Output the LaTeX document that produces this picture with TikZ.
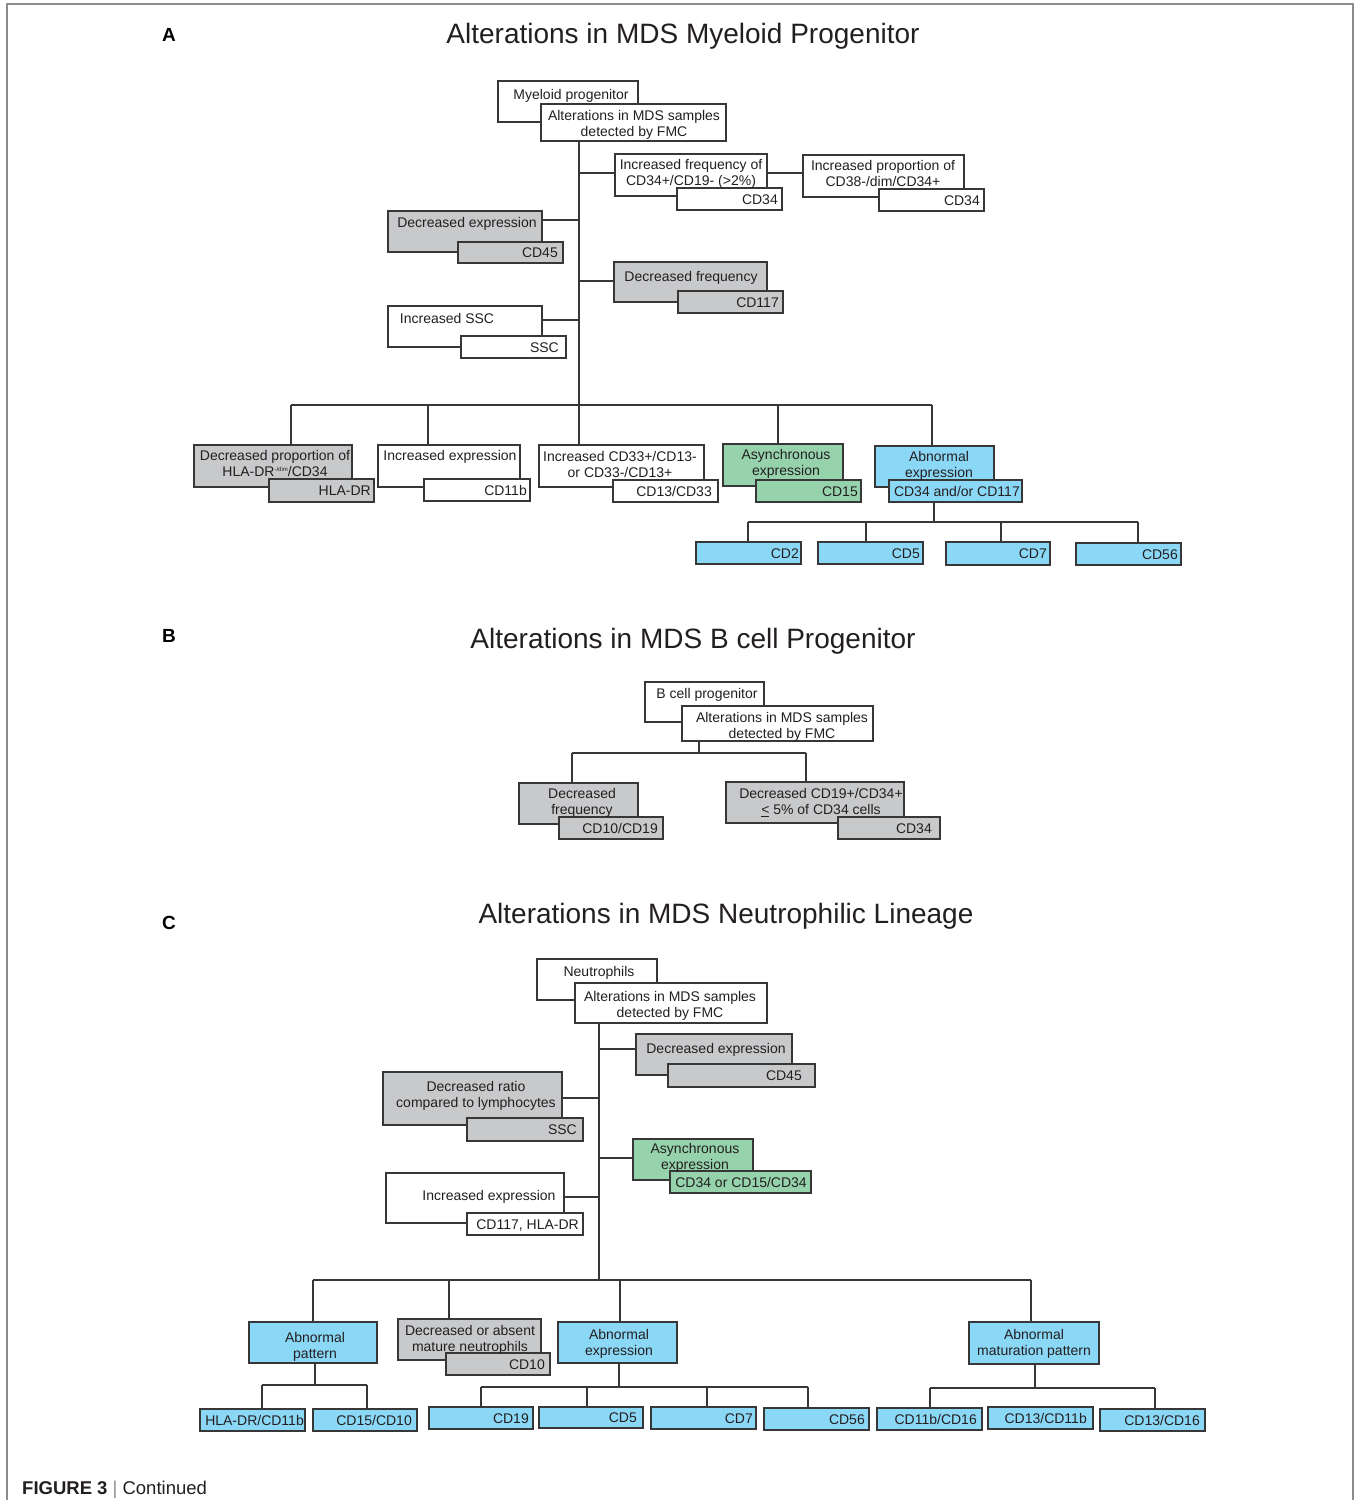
\documentclass[tikz,border=0pt]{standalone}
\usepackage{fontspec}
\setmainfont{Liberation Sans}
\usetikzlibrary{calc}
\definecolor{linec}{RGB}{55,55,55}
\definecolor{txtc}{RGB}{35,31,32}
\definecolor{grayf}{RGB}{200,201,203}
\definecolor{greenf}{RGB}{150,211,172}
\definecolor{bluef}{RGB}{139,215,246}
\definecolor{framec}{RGB}{140,140,140}
\newcommand\Bx[6]{\node[bxs,fill=#6,minimum width={(#4-#2)*1pt},minimum height={(#5-#3)*1pt},anchor=north west] (#1) at (#2,#3) {};}
\tikzset{
  bxs/.style={draw=linec,line width=1.6pt,inner sep=0pt,outer sep=0pt},
  conn/.style={draw=linec,line width=1.8pt},
  tx/.style={font=\fontsize{14}{16}\selectfont,align=center,inner sep=0pt,text=txtc,yshift=-1.5pt},
  lab/.style={font=\fontsize{14}{16}\selectfont,inner sep=0pt,text=txtc,anchor=east,text height=10pt,text depth=0pt},
  ttl/.style={font=\fontsize{28}{30}\selectfont,inner sep=0pt,text=txtc,yshift=-3pt},
  let/.style={font=\fontsize{19}{20}\selectfont\bfseries,inner sep=0pt,text=black}
}
\begin{document}
\begin{tikzpicture}[x=1pt,y=-1pt]
\useasboundingbox (0,0) rectangle (1356,1500);
\fill[white] (0,0) rectangle (1356,1500);
\draw[framec,line width=1.3pt] (7,1500) -- (7,4) -- (1353,4) -- (1353,1500);

% ================= A =================
\node[let] (letA) at (169,35) {A};
\node[ttl] (ttlA) at (683,33) {Alterations in MDS Myeloid Progenitor};

\coordinate (jA) at (579,405);
\coordinate (bA1) at (579,173);
\coordinate (bA2) at (579,220);
\coordinate (bA3) at (579,281);
\coordinate (bA4) at (579,320);
\coordinate (dA1) at (291,405);
\coordinate (dA2) at (428,405);
\coordinate (dA4) at (778,405);
\coordinate (dA5) at (932,405);
\coordinate (eA) at (934,522);
\coordinate (fA1) at (748,522);
\coordinate (fA2) at (866,522);
\coordinate (fA3) at (1001,522);
\coordinate (fA4) at (1138,522);

\Bx{myA}{498}{81}{638}{122}{white}
\Bx{altA}{541}{104}{726}{141}{white}
\Bx{ifA}{615}{154}{767}{196}{white}
\Bx{ifAs}{677}{188}{782}{210}{white}
\Bx{ipA}{803}{155}{964}{197}{white}
\Bx{ipAs}{879}{189}{984}{211}{white}
\Bx{dxA}{388}{211}{542}{252}{grayf}
\Bx{dxAs}{458}{242}{563}{263}{grayf}
\Bx{dfA}{614}{262}{767}{302}{grayf}
\Bx{dfAs}{678}{291}{783}{313}{grayf}
\Bx{ssA}{388}{306}{542}{347}{white}
\Bx{ssAs}{461}{336}{566}{358}{white}

\Bx{hlA}{194}{445}{352}{487}{grayf}
\Bx{hlAs}{269}{479}{374}{502}{grayf}
\Bx{ieA}{378}{445}{520}{487}{white}
\Bx{ieAs}{424}{479}{530}{501}{white}
\Bx{icA}{539}{445}{704}{487}{white}
\Bx{icAs}{613}{480}{718}{502}{white}
\Bx{asA}{723}{444}{843}{486}{greenf}
\Bx{asAs}{756}{480}{861}{502}{greenf}
\Bx{abA}{875}{446}{994}{487}{bluef}
\Bx{abAs}{889}{480}{1022}{502}{bluef}
\Bx{c2A}{696}{542}{801}{564}{bluef}
\Bx{c5A}{818}{542}{923}{564}{bluef}
\Bx{c7A}{946}{542}{1050}{565}{bluef}
\Bx{c56A}{1076}{543}{1181}{565}{bluef}

\draw[conn] (altA.south -| jA) -- (jA);
\draw[conn] (bA1) -- (bA1 -| ifA.west);
\draw[conn] (bA1 -| ifA.east) -- (bA1 -| ipA.west);
\draw[conn] (bA2) -- (bA2 -| dxA.east);
\draw[conn] (bA3) -- (bA3 -| dfA.west);
\draw[conn] (bA4) -- (bA4 -| ssA.east);
\draw[conn] (dA1) -- (dA5);
\draw[conn] (dA1) -- (dA1 |- hlA.north);
\draw[conn] (dA2) -- (dA2 |- ieA.north);
\draw[conn] (jA) -- (jA |- icA.north);
\draw[conn] (dA4) -- (dA4 |- asA.north);
\draw[conn] (dA5) -- (dA5 |- abA.north);
\draw[conn] (abAs.south -| eA) -- (eA);
\draw[conn] (fA1) -- (fA4);
\draw[conn] (fA1) -- (fA1 |- c2A.north);
\draw[conn] (fA2) -- (fA2 |- c5A.north);
\draw[conn] (fA3) -- (fA3 |- c7A.north);
\draw[conn] (fA4) -- (fA4 |- c56A.north);

\node[tx] (tmyA) at (571,94) {Myeloid progenitor};
\node[tx] (taltA) at (634,123) {Alterations in MDS samples\\detected by FMC};
\node[tx] (tifA) at (691,172) {Increased frequency of\\CD34+/CD19- (>2\%)};
\node[lab] (tifAs) at ([xshift=-4pt]ifAs.east) {CD34};
\node[tx] (tipA) at (883,172) {Increased proportion of\\CD38-/dim/CD34+};
\node[lab] (tipAs) at ([xshift=-4pt]ipAs.east) {CD34};
\node[tx] (tdxA) at (467,222) {Decreased expression};
\node[lab] (tdxAs) at ([xshift=-5pt]dxAs.east) {CD45};
\node[tx] (tdfA) at (691,276) {Decreased frequency};
\node[lab] (tdfAs) at ([xshift=-4pt]dfAs.east) {CD117};
\node[tx] (tssA) at (447,317) {Increased SSC};
\node[lab] (tssAs) at ([xshift=-7pt]ssAs.east) {SSC};
\node[tx] (thlA) at (275,462) {Decreased proportion of\\HLA-DR{\fontsize{6}{6}\selectfont\raisebox{5pt}{-/dim}}/CD34};
\node[lab] (thlAs) at ([xshift=-3pt]hlAs.east) {HLA-DR};
\node[tx] (tieA) at (450,455) {Increased expression};
\node[lab] (tieAs) at ([xshift=-3pt]ieAs.east) {CD11b};
\node[tx] (ticA) at (620,463) {Increased CD33+/CD13-\\or CD33-/CD13+};
\node[lab] (ticAs) at ([xshift=-6pt]icAs.east) {CD13/CD33};
\node[tx] (tasA) at (786,462) {Asynchronous\\expression};
\node[lab] (tasAs) at ([xshift=-3pt]asAs.east) {CD15};
\node[tx] (tabA) at (939,464) {Abnormal\\expression};
\node[lab] (tabAs) at ([xshift=-2pt]abAs.east) {CD34 and/or CD117};
\node[lab] (tc2A) at ([xshift=-2pt]c2A.east) {CD2};
\node[lab] (tc5A) at ([xshift=-3pt]c5A.east) {CD5};
\node[lab] (tc7A) at ([xshift=-3pt]c7A.east) {CD7};
\node[lab] (tc56A) at ([xshift=-3pt]c56A.east) {CD56};

% ================= B =================
\node[let] (letB) at (169,636) {B};
\node[ttl] (ttlB) at (693,638) {Alterations in MDS B cell Progenitor};

\coordinate (jB) at (699,753);
\coordinate (dB1) at (572,753);
\coordinate (dB2) at (806,753);

\Bx{bpB}{645}{682}{764}{722}{white}
\Bx{altB}{682}{706}{873}{741}{white}
\Bx{dfB}{519}{783}{638}{824}{grayf}
\Bx{dfBs}{559}{817}{663}{839}{grayf}
\Bx{dcB}{726}{782}{904}{823}{grayf}
\Bx{dcBs}{838}{817}{940}{839}{grayf}

\draw[conn] (altB.south -| jB) -- (jB);
\draw[conn] (dB1) -- (dB2);
\draw[conn] (dB1) -- (dB1 |- dfB.north);
\draw[conn] (dB2) -- (dB2 |- dcB.north);

\node[tx] (tbpB) at (707,693) {B cell progenitor};
\node[tx] (taltB) at (782,725) {Alterations in MDS samples\\detected by FMC};
\node[tx] (tdfB) at (582,801) {Decreased\\frequency};
\node[lab] (tdfBs) at ([xshift=-5pt]dfBs.east) {CD10/CD19};
\node[tx] (tdcB) at (821,801) {Decreased CD19+/CD34+\\\underline{<} 5\% of CD34 cells};
\node[lab] (tdcBs) at ([xshift=-8pt]dcBs.east) {CD34};

% ================= C =================
\node[let] (letC) at (169,923) {C};
\node[ttl] (ttlC) at (726,913) {Alterations in MDS Neutrophilic Lineage};

\coordinate (jC) at (599,1280);
\coordinate (bC1) at (599,1049);
\coordinate (bC2) at (599,1098);
\coordinate (bC3) at (599,1158);
\coordinate (bC4) at (599,1197);
\coordinate (dC1) at (313,1280);
\coordinate (dC2) at (449,1280);
\coordinate (dC3) at (620,1280);
\coordinate (dC4) at (1031,1280);
\coordinate (gC0) at (315,1385);
\coordinate (gC1) at (262,1385);
\coordinate (gC2) at (367,1385);
\coordinate (hC0) at (619,1387);
\coordinate (hC1) at (481,1387);
\coordinate (hC2) at (587,1387);
\coordinate (hC3) at (707,1387);
\coordinate (hC4) at (808,1387);
\coordinate (kC1) at (930,1388);
\coordinate (kC2) at (1035,1388);
\coordinate (kC3) at (1155,1388);

\Bx{neC}{537}{959}{657}{1000}{white}
\Bx{altC}{575}{983}{767}{1023}{white}
\Bx{dxC}{636}{1034}{792}{1075}{grayf}
\Bx{dxCs}{668}{1064}{815}{1087}{grayf}
\Bx{drC}{383}{1072}{562}{1125}{grayf}
\Bx{drCs}{467}{1118}{583}{1141}{grayf}
\Bx{asC}{633}{1139}{753}{1180}{greenf}
\Bx{asCs}{670}{1171}{811}{1193}{greenf}
\Bx{ieC}{386}{1173}{564}{1223}{white}
\Bx{ieCs}{467}{1213}{583}{1235}{white}

\Bx{apC}{249}{1322}{377}{1363}{bluef}
\Bx{h1C}{200}{1409}{305}{1431}{bluef}
\Bx{h2C}{313}{1409}{417}{1431}{bluef}
\Bx{daC}{398}{1319}{541}{1360}{grayf}
\Bx{daCs}{446}{1353}{550}{1375}{grayf}
\Bx{aeC}{558}{1322}{677}{1363}{bluef}
\Bx{e1C}{429}{1407}{533}{1429}{bluef}
\Bx{e2C}{539}{1407}{643}{1428}{bluef}
\Bx{e3C}{651}{1407}{756}{1429}{bluef}
\Bx{e4C}{764}{1408}{869}{1430}{bluef}
\Bx{amC}{969}{1322}{1099}{1364}{bluef}
\Bx{m1C}{877}{1408}{982}{1430}{bluef}
\Bx{m2C}{988}{1407}{1093}{1429}{bluef}
\Bx{m3C}{1100}{1409}{1205}{1431}{bluef}

\draw[conn] (altC.south -| jC) -- (jC);
\draw[conn] (bC1) -- (bC1 -| dxC.west);
\draw[conn] (bC2) -- (bC2 -| drC.east);
\draw[conn] (bC3) -- (bC3 -| asC.west);
\draw[conn] (bC4) -- (bC4 -| ieC.east);
\draw[conn] (dC1) -- (dC4);
\draw[conn] (dC1) -- (dC1 |- apC.north);
\draw[conn] (dC2) -- (dC2 |- daC.north);
\draw[conn] (dC3) -- (dC3 |- aeC.north);
\draw[conn] (dC4) -- (dC4 |- amC.north);
\draw[conn] (apC.south -| gC0) -- (gC0);
\draw[conn] (gC1) -- (gC2);
\draw[conn] (gC1) -- (gC1 |- h1C.north);
\draw[conn] (gC2) -- (gC2 |- h2C.north);
\draw[conn] (aeC.south -| hC0) -- (hC0);
\draw[conn] (hC1) -- (hC4);
\draw[conn] (hC1) -- (hC1 |- e1C.north);
\draw[conn] (hC2) -- (hC2 |- e2C.north);
\draw[conn] (hC3) -- (hC3 |- e3C.north);
\draw[conn] (hC4) -- (hC4 |- e4C.north);
\draw[conn] (amC.south -| kC2) -- (kC2);
\draw[conn] (kC1) -- (kC3);
\draw[conn] (kC1) -- (kC1 |- m1C.north);
\draw[conn] (kC3) -- (kC3 |- m3C.north);

\node[tx] (tneC) at (599,971) {Neutrophils};
\node[tx] (taltC) at (670,1004) {Alterations in MDS samples\\detected by FMC};
\node[tx] (tdxC) at (716,1048) {Decreased expression};
\node[lab] (tdxCs) at ([xshift=-13pt]dxCs.east) {CD45};
\node[tx] (tdrC) at (476,1094) {Decreased ratio\\compared to lymphocytes};
\node[lab] (tdrCs) at ([xshift=-6pt]drCs.east) {SSC};
\node[tx] (tasC) at (695,1156) {Asynchronous\\expression};
\node[lab] (tasCs) at ([xshift=-4pt]asCs.east) {CD34 or CD15/CD34};
\node[tx] (tieC) at (489,1195) {Increased expression};
\node[lab] (tieCs) at ([xshift=-4pt]ieCs.east) {CD117, HLA-DR};
\node[tx] (tapC) at (315,1345) {Abnormal\\pattern};
\node[lab] (th1C) at ([xshift=-1pt]h1C.east) {HLA-DR/CD11b};
\node[lab] (th2C) at ([xshift=-5pt]h2C.east) {CD15/CD10};
\node[tx] (tdaC) at (470,1338) {Decreased or absent\\mature neutrophils};
\node[lab] (tdaCs) at ([xshift=-5pt]daCs.east) {CD10};
\node[tx] (taeC) at (619,1342) {Abnormal\\expression};
\node[lab] (te1C) at ([xshift=-4pt]e1C.east) {CD19};
\node[lab] (te2C) at ([xshift=-6pt]e2C.east) {CD5};
\node[lab] (te3C) at ([xshift=-3pt]e3C.east) {CD7};
\node[lab] (te4C) at ([xshift=-4pt]e4C.east) {CD56};
\node[tx] (tamC) at (1034,1342) {Abnormal\\maturation pattern};
\node[lab] (tm1C) at ([xshift=-5pt]m1C.east) {CD11b/CD16};
\node[lab] (tm2C) at ([xshift=-6pt]m2C.east) {CD13/CD11b};
\node[lab] (tm3C) at ([xshift=-5pt]m3C.east) {CD13/CD16};

% caption
\node[anchor=base west,inner sep=0pt,text=txtc,font=\fontsize{18.5}{20}\selectfont] (cap) at (22,1494) {\textbf{FIGURE 3} {\color{framec}|} Continued};
\end{tikzpicture}
\end{document}
